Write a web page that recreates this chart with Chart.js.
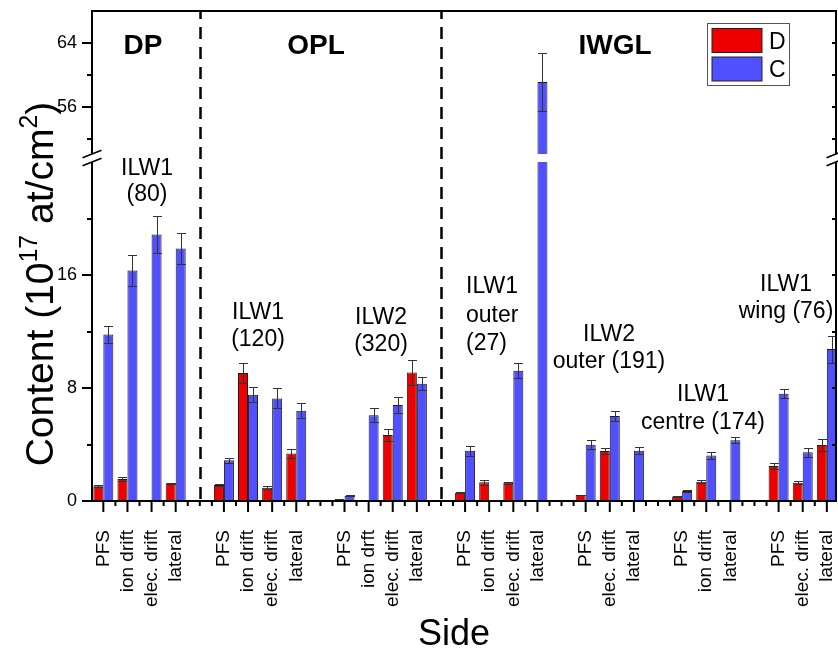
<!DOCTYPE html>
<html>
<head>
<meta charset="utf-8">
<script src="https://cdn.jsdelivr.net/npm/chart.js@4.4.1/dist/chart.umd.min.js"></script>
<style>
  html, body { margin: 0; padding: 0; background: #fff; }
  #wrap { width: 838px; height: 648px; position: relative; }
</style>
</head>
<body>
<div id="wrap"><canvas id="c" width="838" height="648"></canvas></div>
<script>
// ---------------- data ----------------
const categories = [
  'PFS', 'ion drift', 'elec. drift', 'lateral', '',
  'PFS', 'ion drift', 'elec. drift', 'lateral', '',
  'PFS', 'ion drft', 'elec. drift', 'lateral', '',
  'PFS', 'ion drift', 'elec. drift', 'lateral', '',
  'PFS', 'elec. drift', 'lateral', '',
  'PFS', 'ion drift', 'lateral', '',
  'PFS', 'elec. drift', 'lateral'
];
const seriesNames = ['D', 'C'];
const dValues = [
  1.05, 1.56, null, 1.25, null,
  1.13, 9.06, 0.94, 3.37, null,
  0.12, null, 4.67, 9.11, null,
  0.59, 1.32, 1.30, null, null,
  0.42, 3.54, null, null,
  0.31, 1.37, null, null,
  2.48, 1.30, 3.96
];
const dErrors = [
  0.06, 0.16, null, 0.06, null,
  0.05, 0.69, 0.12, 0.33, null,
  0.02, null, 0.43, 0.87, null,
  0.03, 0.20, 0.08, null, null,
  0.03, 0.24, null, null,
  0.02, 0.13, null, null,
  0.19, 0.10, 0.43
];
const cValues = [
  11.8, 16.33, 18.88, 17.89, null,
  2.88, 7.53, 7.27, 6.39, null,
  0.38, 6.07, 6.8, 8.31, null,
  3.56, null, 9.23, 59.1, null,
  3.99, 6.02, 3.56, null,
  0.71, 3.23, 4.3, null,
  7.6, 3.45, 10.76
];
const cErrors = [
  0.6, 1.1, 1.3, 1.1, null,
  0.2, 0.52, 0.71, 0.52, null,
  0.04, 0.5, 0.54, 0.45, null,
  0.36, null, 0.52, 3.6, null,
  0.31, 0.37, 0.24, null,
  0.04, 0.26, 0.21, null,
  0.31, 0.33, 0.96
];
const yMajorTicks = [0, 8, 16, 56, 64];
const yMinorTicks = [4, 12, 20, 52, 60];
const regionDividers = [4, 14];           // category slots holding the dashed separators
const regionNames = ['DP', 'OPL', 'IWGL'];
const groupNotes = [
  ['ILW1', '(80)'],
  ['ILW1', '(120)'],
  ['ILW2', '(320)'],
  ['ILW1', 'outer', '(27)'],
  ['ILW2', 'outer (191)'],
  ['ILW1', 'centre (174)'],
  ['ILW1', 'wing (76)']
];
const yTitleParts = [['Content (10', false], ['17', true], [' at/cm', false], ['2', true], [')', false]];
const xTitle = 'Side';

// ---------------- layout / style (not data) ----------------
const FONT = "'Liberation Sans', Arial, Helvetica, sans-serif";
const yBreak = { low: 24.3, high: 49.6, lowerFraction: 0.7 };
const regionNamePos = [[143, 54], [316, 54], [615, 54]];
const notePos = [
  { x: 147, y: 175, gap: 26, align: 'center' },
  { x: 258, y: 319, gap: 27, align: 'center' },
  { x: 381, y: 324, gap: 27, align: 'center' },
  { x: 466, y: 293, gap: 28.5, align: 'left' },
  { x: 609, y: 341, gap: 27, align: 'center' },
  { x: 703, y: 401, gap: 28, align: 'center' },
  { x: 786, y: 291, gap: 27, align: 'center' }
];
const colors = ['#EE0000', '#5050FF'];

// ---------------- broken y scale ----------------
class BrokenLinearScale extends Chart.LinearScale {
  static id = 'brokenLinear';
  static defaults = {};
  _seg() {
    const h = this.bottom - this.top;
    const lowH = h * yBreak.lowerFraction;
    return { h, lowH, bp: this.bottom - lowH };
  }
  getPixelForValue(value) {
    if (value === null || value === undefined || isNaN(value)) return NaN;
    const { h, lowH, bp } = this._seg();
    if (value <= yBreak.low) return this.bottom - (value - this.min) / (yBreak.low - this.min) * lowH;
    if (value >= yBreak.high) return this.top + (this.max - value) / (this.max - yBreak.high) * (h - lowH);
    return bp;
  }
  getValueForPixel(pixel) {
    const { h, lowH, bp } = this._seg();
    if (pixel >= bp) return this.min + (this.bottom - pixel) / lowH * (yBreak.low - this.min);
    return this.max - (pixel - this.top) / (h - lowH) * (this.max - yBreak.high);
  }
  breakPixel() { return this._seg().bp; }
}
Chart.register(BrokenLinearScale);

// ---------------- decorations plugin ----------------
function drawRich(ctx, parts, size, cx, cy, rot) {
  ctx.save();
  ctx.translate(cx, cy);
  if (rot) ctx.rotate(rot);
  const supSize = size * 0.64;
  const items = parts.map(([t, sup]) => {
    ctx.font = `${sup ? supSize : size}px ${FONT}`;
    return { t, sup, w: ctx.measureText(t).width };
  });
  const total = items.reduce((s, p) => s + p.w, 0);
  let xx = -total / 2;
  ctx.textAlign = 'left';
  ctx.textBaseline = 'alphabetic';
  ctx.fillStyle = '#000';
  items.forEach(p => {
    ctx.font = `${p.sup ? supSize : size}px ${FONT}`;
    ctx.fillText(p.t, xx, p.sup ? -size * 0.42 : 0);
    xx += p.w;
  });
  ctx.restore();
}

function drawBreakMarks(ctx, xPix, bp) {
  ctx.save();
  ctx.fillStyle = '#fff';
  ctx.fillRect(xPix - 2, bp - 4, 4, 8);
  ctx.strokeStyle = '#000';
  ctx.lineWidth = 1.6;
  [-4, 4].forEach(off => {
    ctx.beginPath();
    ctx.moveTo(xPix - 9.5, bp + off + 3.8);
    ctx.lineTo(xPix + 9.5, bp + off - 3.8);
    ctx.stroke();
  });
  ctx.restore();
}

const decor = {
  id: 'decor',
  beforeDatasetsDraw(chart) {
    const { ctx, chartArea: a, scales: { x } } = chart;
    ctx.save();
    ctx.strokeStyle = '#000';
    ctx.lineWidth = 2.5;
    ctx.setLineDash([12, 8]);
    ctx.lineDashOffset = 4;
    regionDividers.forEach(i => {
      const px = Math.round(x.getPixelForValue(i)) + 0.5;
      ctx.beginPath();
      ctx.moveTo(px, a.top);
      ctx.lineTo(px, a.bottom);
      ctx.stroke();
    });
    ctx.restore();
  },
  afterDatasetsDraw(chart) {
    const { ctx, chartArea: a, scales: { x, y } } = chart;
    const bp = y.breakPixel();
    ctx.save();

    // error bars
    const errs = [dErrors, cErrors];
    const vals = [dValues, cValues];
    [0, 1].forEach(di => {
      const meta = chart.getDatasetMeta(di);
      vals[di].forEach((v, i) => {
        const e = errs[di][i];
        if (v === null || e === null) return;
        const el = meta.data[i];
        const cx = Math.round(el.x) + 0.5;
        const yt = Math.round(y.getPixelForValue(v + e)) + 0.5;
        const yb = Math.round(y.getPixelForValue(v - e)) + 0.5;
        ctx.strokeStyle = '#333';
        ctx.lineWidth = 1;
        ctx.beginPath();
        ctx.moveTo(cx, yt); ctx.lineTo(cx, yb);
        ctx.moveTo(cx - 4.5, yt); ctx.lineTo(cx + 4.5, yt);
        ctx.moveTo(cx - 4.5, yb); ctx.lineTo(cx + 4.5, yb);
        ctx.stroke();
      });
    });

    // white gap across bars that cross the axis break
    [0, 1].forEach(di => {
      const meta = chart.getDatasetMeta(di);
      vals[di].forEach((v, i) => {
        if (v === null || v <= yBreak.low) return;
        const el = meta.data[i];
        ctx.fillStyle = '#fff';
        ctx.fillRect(el.x - el.width / 2 - 1, bp - 4, el.width + 2, 8);
      });
    });

    // frame
    ctx.strokeStyle = '#000';
    ctx.lineWidth = 2;
    ctx.beginPath();
    ctx.moveTo(a.left, a.top); ctx.lineTo(a.right, a.top);
    ctx.moveTo(a.left, a.bottom); ctx.lineTo(a.right, a.bottom);
    ctx.moveTo(a.left, a.top - 1); ctx.lineTo(a.left, a.bottom + 1);
    ctx.moveTo(a.right, a.top - 1); ctx.lineTo(a.right, a.bottom + 1);
    ctx.stroke();

    // x ticks
    ctx.lineWidth = 2;
    ctx.beginPath();
    categories.forEach((c, i) => {
      const px = x.getPixelForValue(i);
      ctx.moveTo(px, a.bottom); ctx.lineTo(px, a.bottom + (c ? 11 : 5));
      if (i < categories.length - 1) {
        const mx = x.getPixelForValue(i + 0.5);
        ctx.moveTo(mx, a.bottom); ctx.lineTo(mx, a.bottom + 5);
      }
    });
    ctx.stroke();

    // y ticks (left outward, right inward)
    ctx.beginPath();
    yMajorTicks.concat(yMinorTicks).forEach(v => {
      const py = Math.round(y.getPixelForValue(v));
      const len = yMajorTicks.includes(v) ? 10 : 5;
      ctx.moveTo(a.left, py); ctx.lineTo(a.left - len, py);
      ctx.moveTo(a.right, py); ctx.lineTo(a.right - 4, py);
    });
    ctx.stroke();

    // axis break marks
    drawBreakMarks(ctx, a.left, bp);
    drawBreakMarks(ctx, a.right, bp);

    // region names
    ctx.fillStyle = '#000';
    ctx.textBaseline = 'alphabetic';
    ctx.font = `bold 28px ${FONT}`;
    ctx.textAlign = 'center';
    regionNames.forEach((n, i) => ctx.fillText(n, regionNamePos[i][0], regionNamePos[i][1]));

    // group notes
    ctx.font = `23px ${FONT}`;
    groupNotes.forEach((lines, gi) => {
      const p = notePos[gi];
      ctx.textAlign = p.align;
      lines.forEach((ln, li) => ctx.fillText(ln, p.x, p.y + li * p.gap));
    });

    // legend
    const lx = 707.5, ly = 23.5, lw = 82, lh = 62;
    ctx.fillStyle = '#fff';
    ctx.fillRect(lx, ly, lw, lh);
    ctx.strokeStyle = '#555';
    ctx.lineWidth = 1;
    ctx.strokeRect(lx, ly, lw, lh);
    chart.data.datasets.forEach((ds, i) => {
      const sy = 28.5 + i * 28.5;
      ctx.fillStyle = ds.backgroundColor;
      ctx.fillRect(712, sy, 50, 24);
      ctx.strokeStyle = '#222';
      ctx.lineWidth = 1;
      ctx.strokeRect(712, sy, 50, 24);
      ctx.fillStyle = '#000';
      ctx.font = `23px ${FONT}`;
      ctx.textAlign = 'left';
      ctx.textBaseline = 'alphabetic';
      ctx.fillText(ds.label, 769, sy + 20);
    });

    // axis titles
    drawRich(ctx, yTitleParts, 39, 53, 284, -Math.PI / 2);
    ctx.font = `36px ${FONT}`;
    ctx.textAlign = 'center';
    ctx.textBaseline = 'alphabetic';
    ctx.fillStyle = '#000';
    ctx.fillText(xTitle, 454, 645);

    ctx.restore();
  }
};

function zeroPad(s) { s.paddingLeft = 0; s.paddingRight = 0; s.paddingTop = 0; s.paddingBottom = 0; }

// ---------------- chart ----------------
const ctx = document.getElementById('c').getContext('2d');
new Chart(ctx, {
  type: 'bar',
  data: {
    datasets: [
      { label: seriesNames[0], data: dValues.map((v, i) => ({ x: i, y: v })), backgroundColor: colors[0] },
      { label: seriesNames[1], data: cValues.map((v, i) => ({ x: i, y: v })), backgroundColor: colors[1] }
    ]
  },
  options: {
    responsive: false,
    animation: false,
    devicePixelRatio: 1,
    layout: { padding: { left: 0, right: 2, top: 11, bottom: 0 } },
    datasets: {
      bar: { borderColor: '#1a1a1a', borderWidth: 1, borderSkipped: false, barPercentage: 1, categoryPercentage: 0.83 }
    },
    plugins: { legend: { display: false }, tooltip: { enabled: false } },
    scales: {
      x: {
        type: 'linear', min: -0.47, max: 30.38, offset: false,
        afterBuildTicks: s => { s.ticks = categories.map((c, i) => ({ value: i })); },
        afterFit: s => { s.height = 147; zeroPad(s); },
        grid: { display: false, drawTicks: false, offset: false },
        border: { display: false },
        ticks: {
          autoSkip: false, minRotation: 90, maxRotation: 90, padding: 29, color: '#000',
          font: { family: FONT, size: 19 },
          callback: (v, i) => categories[i]
        }
      },
      y: {
        type: 'brokenLinear', min: 0, max: 68,
        afterBuildTicks: s => { s.ticks = yMajorTicks.concat(yMinorTicks).sort((a, b) => a - b).map(v => ({ value: v })); },
        afterFit: s => { s.width = 92; zeroPad(s); },
        grid: { display: false, drawTicks: false },
        border: { display: false },
        ticks: {
          autoSkip: false, padding: 15, color: '#000',
          font: { family: FONT, size: 18 },
          callback: v => yMajorTicks.includes(v) ? String(v) : ''
        }
      }
    }
  },
  plugins: [decor]
});
</script>
</body>
</html>
